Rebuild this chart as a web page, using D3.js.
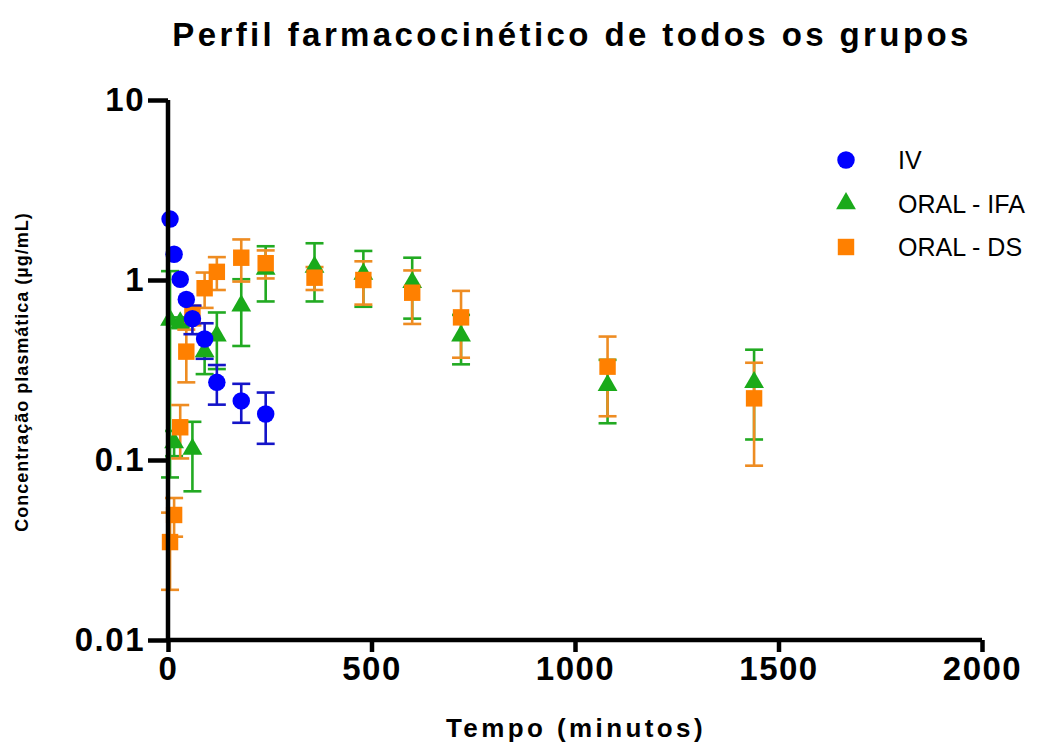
<!DOCTYPE html>
<html>
<head>
<meta charset="utf-8">
<script src="https://cdn.jsdelivr.net/npm/d3@7"></script>
<style>
  body { margin: 0; background: #fff; }
  svg { font-family: 'Liberation Sans', Arial, sans-serif; }
</style>
</head>
<body>
<svg id="chart" width="1062" height="749"></svg>
<script>
// tempo (min), média e DP de cada grupo
var ivTime = [5, 15, 30, 45, 60, 90, 120, 180, 240]
var ivMean = [2.18, 1.39, 1.01, 0.78, 0.61, 0.47, 0.27, 0.213, 0.18]
var ivSd = [0, 0, 0, 0, 0.11, 0.105, 0.067, 0.052, 0.057]

var ifaTime = [5, 15, 30, 60, 90, 120, 180, 240, 360, 480, 600, 720, 1080, 1440]
var ifaMean = [0.6, 0.125, 0.58, 0.115, 0.40, 0.49, 0.72, 1.15, 1.18, 1.08, 0.97, 0.49, 0.26, 0.27]
var ifaSd = [0.52, 0.02, 0.04, 0.048, 0.1, 0.17, 0.29, 0.39, 0.42, 0.37, 0.36, 0.15, 0.1, 0.14]

var dsTime = [5, 15, 30, 45, 60, 90, 120, 180, 240, 360, 480, 600, 720, 1080, 1440]
var dsMean = [0.035, 0.0495, 0.152, 0.40, 0.64, 0.90, 1.11, 1.33, 1.24, 1.03, 1.0, 0.85, 0.62, 0.33, 0.22]
var dsSd = [0.016, 0.012, 0.05, 0.13, 0.08, 0.2, 0.23, 0.35, 0.22, 0.15, 0.27, 0.28, 0.25, 0.155, 0.127]

var xTicks = [0, 500, 1000, 1500, 2000]
var yTicks = [10, 1, 0.1, 0.01]
var yTickLabels = ['10', '1', '0.1', '0.01']

var svg = d3.select('#chart')
var margin = {left: 168, top: 100, right: 80, bottom: 109}
var width = +svg.attr('width') - margin.left - margin.right
var height = +svg.attr('height') - margin.top - margin.bottom

var x = d3.scaleLinear().domain([0, 2000]).range([0, width])
var y = d3.scaleLog().domain([0.01, 10]).range([height, 0])

var g = svg.append('g')
    .attr('transform', 'translate(' + margin.left + ',' + margin.top + ')')

function build (time, mean, sd) {
  return time.map(function (t, i) { return {t: t, m: mean[i], sd: sd[i]} })
}

var iv = {name: 'IV', data: build(ivTime, ivMean, ivSd), fill: '#0000ff', bar: '#1414c8', shape: d3.symbolCircle, size: 240}
var ifa = {name: 'ORAL - IFA', data: build(ifaTime, ifaMean, ifaSd), fill: '#1aaa1a', bar: '#22aa22', shape: d3.symbolTriangle, size: 170}
var ds = {name: 'ORAL - DS', data: build(dsTime, dsMean, dsSd), fill: '#ff8000', bar: '#ee8c22', shape: d3.symbolSquare, size: 270}

var drawOrder = [ifa, ds, iv]
var legendOrder = [iv, ifa, ds]

var capW = 9

// error bars
drawOrder.forEach(function (s) {
  var eb = g.append('g')
    .attr('stroke', s.bar).attr('stroke-width', 2.6).attr('fill', 'none')
  s.data.filter(function (d) { return d.sd > 0 }).forEach(function (d) {
    var cx = x(d.t)
    var y1 = y(d.m + d.sd)
    var y0 = y(Math.max(d.m - d.sd, 0.005))
    eb.append('line').attr('x1', cx).attr('x2', cx).attr('y1', y1).attr('y2', y0)
    eb.append('line').attr('x1', cx - capW).attr('x2', cx + capW).attr('y1', y1).attr('y2', y1)
    eb.append('line').attr('x1', cx - capW).attr('x2', cx + capW).attr('y1', y0).attr('y2', y0)
  })
})

// symbols
drawOrder.forEach(function (s) {
  g.append('g')
    .selectAll('path')
    .data(s.data)
    .enter().append('path')
      .attr('transform', function (d) { return 'translate(' + x(d.t) + ',' + y(d.m) + ')' })
      .attr('d', d3.symbol().type(s.shape).size(s.size))
      .attr('fill', s.fill)
})

// axes
var xAxis = g.append('g')
    .attr('transform', 'translate(0,' + height + ')')
    .call(d3.axisBottom(x).tickValues(xTicks).tickSize(12).tickPadding(2).tickFormat(d3.format('d')))
var yAxis = g.append('g')
    .call(d3.axisLeft(y).tickValues(yTicks).tickSize(20).tickPadding(3)
      .tickFormat(function (d, i) { return yTickLabels[i] }))

;[xAxis, yAxis].forEach(function (a) {
  a.select('.domain').attr('stroke', '#000').attr('stroke-width', 4.5)
    .attr('d', a === xAxis ? 'M0,0H' + width : 'M0,0V' + height)
  a.selectAll('.tick line').attr('stroke', '#000').attr('stroke-width', 4.5)
  a.selectAll('.tick text')
    .attr('fill', '#000')
    .style('font-size', '33px')
    .style('font-weight', 'bold')
    .style('letter-spacing', '1.5px')
    .style('font-family', "'Liberation Sans', Arial, sans-serif")
})
xAxis.selectAll('.tick text').attr('dy', '0.8em')

// titles
svg.append('text')
    .attr('x', 572).attr('y', 46)
    .attr('text-anchor', 'middle')
    .style('font-size', '33px').style('font-weight', 'bold').style('letter-spacing', '3.4px')
    .text('Perfil farmacocinético de todos os grupos')

svg.append('text')
    .attr('x', 576).attr('y', 737)
    .attr('text-anchor', 'middle')
    .style('font-size', '26px').style('font-weight', 'bold').style('letter-spacing', '3.4px')
    .text('Tempo (minutos)')

svg.append('text')
    .attr('transform', 'translate(28,' + (margin.top + height / 2 + 2) + ') rotate(-90)')
    .attr('text-anchor', 'middle')
    .style('font-size', '18px').style('font-weight', 'bold').style('letter-spacing', '1px')
    .text('Concentração plasmática (µg/mL)')

// legend
var legend = svg.append('g').attr('transform', 'translate(846,160)')
legendOrder.forEach(function (s, i) {
  var row = legend.append('g').attr('transform', 'translate(0,' + (i * 43.5) + ')')
  row.append('path')
      .attr('d', d3.symbol().type(s.shape).size(s.size))
      .attr('fill', s.fill)
  row.append('text')
      .attr('x', 52).attr('y', 9)
      .style('font-size', '25px')
      .text(s.name)
})
</script>
</body>
</html>
